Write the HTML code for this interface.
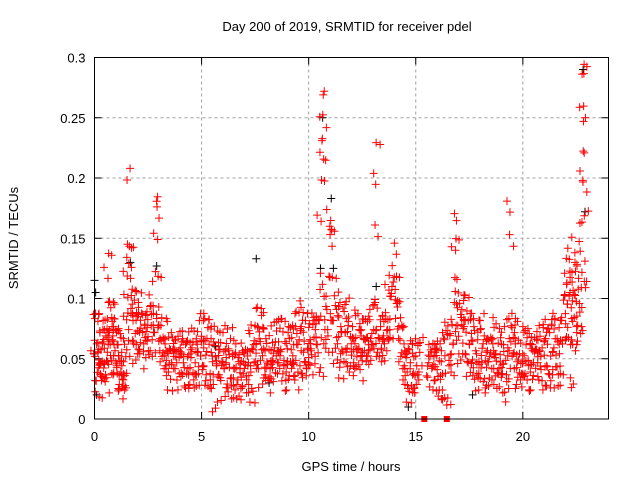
<!DOCTYPE html>
<html><head><meta charset="utf-8"><style>
body{margin:0;background:#fff}
svg{display:block;font-family:"Liberation Sans",sans-serif}
</style></head><body>
<svg id="chart" width="640" height="480" viewBox="0 0 640 480">
<rect width="640" height="480" fill="#fff"/>
<text x="347" y="31" font-size="13" text-anchor="middle">Day 200 of 2019, SRMTID for receiver pdel</text>
<text x="351" y="471" font-size="13" text-anchor="middle">GPS time / hours</text>
<text transform="translate(18,238) rotate(-90)" font-size="13" text-anchor="middle">SRMTID / TECUs</text>
<g id="grid"></g>
<g id="ticks"></g>
<g id="black"></g>
<g id="red"></g>
<rect x="94.5" y="57.5" width="514" height="361.5" fill="none" stroke="#000" stroke-width="1"/>
</svg>
<script>
const xTicks=[0,5,10,15,20];
const yTicks=[0,0.05,0.1,0.15,0.2,0.25,0.3];
const yTickLabels=["0","0.05","0.1","0.15","0.2","0.25","0.3"];
const redPoints=[
[0.02,0.05],[0.05,0.09],[0.08,0.03],[0.1,0.06],[0.13,0.04],[0.16,0.08],[0.2,0.05],[0.22,0.02],[0.25,0.07],[0.28,0.04],[0.3,0.06],[0.33,0.03],[0.36,0.05],[0.4,0.08],[0.43,0.04],[0.46,0.06],[0.5,0.03],[0.53,0.07],[0.56,0.05],
[0.6,0.08],[0.63,0.12],[0.66,0.14],[0.68,0.07],[0.7,0.1],[0.73,0.06],[0.76,0.09],[0.8,0.05],[0.83,0.08],[0.86,0.07],[0.9,0.04],[0.93,0.08],[0.96,0.06],[1.0,0.05],[1.03,0.07],[1.06,0.04],[1.1,0.06],[1.13,0.05],[1.16,0.03],[1.2,0.07],[1.23,0.04],[1.26,0.05],[1.3,0.03],[1.33,0.02],[1.36,0.04],[1.4,0.06],[1.43,0.03],[1.46,0.05],
[1.5,0.08],[1.53,0.12],[1.56,0.1],[1.6,0.13],[1.63,0.145],[1.66,0.205],[1.68,0.12],[1.7,0.09],[1.73,0.14],[1.76,0.11],[1.8,0.08],[1.83,0.06],[1.86,0.1],[1.9,0.07],[1.93,0.05],[1.96,0.09],
[2.0,0.07],[2.05,0.1],[2.1,0.06],[2.15,0.08],[2.2,0.09],[2.25,0.07],[2.3,0.06],[2.35,0.08],[2.4,0.05],[2.45,0.09],[2.5,0.07],[2.55,0.1],[2.6,0.06],[2.65,0.08],[2.7,0.05],[2.75,0.09],[2.8,0.07],
[2.85,0.12],[2.9,0.182],[2.92,0.175],[2.95,0.15],[2.97,0.12],[3.0,0.09],[3.05,0.06],[3.1,0.08],[3.15,0.05],[3.2,0.07],[3.25,0.04],[3.3,0.06],[3.35,0.05],[3.4,0.08],[3.45,0.04],[3.5,0.06],[3.55,0.03],[3.6,0.05],[3.65,0.07],[3.7,0.04],[3.75,0.06],[3.8,0.05],[3.85,0.03],[3.9,0.07],[3.95,0.05],
[4.0,0.06],[4.05,0.04],[4.1,0.07],[4.15,0.05],[4.2,0.03],[4.25,0.06],[4.3,0.04],[4.35,0.05],[4.4,0.07],[4.45,0.03],[4.5,0.05],[4.55,0.06],[4.6,0.04],[4.65,0.07],[4.7,0.05],[4.75,0.03],[4.8,0.06],[4.85,0.04],[4.9,0.08],[4.95,0.05],
[5.0,0.07],[5.05,0.04],[5.1,0.06],[5.15,0.085],[5.2,0.05],[5.25,0.07],[5.3,0.03],[5.35,0.06],[5.4,0.04],[5.45,0.075],[5.5,0.05],[5.55,0.03],[5.6,0.06],[5.65,0.01],[5.7,0.05],[5.75,0.07],[5.8,0.04],[5.85,0.06],[5.9,0.03],[5.95,0.05],
[6.0,0.07],[6.05,0.04],[6.1,0.02],[6.15,0.05],[6.2,0.03],[6.25,0.06],[6.3,0.04],[6.35,0.07],[6.4,0.03],[6.45,0.05],[6.5,0.02],[6.55,0.04],[6.6,0.06],[6.65,0.03],[6.7,0.05],[6.75,0.02],[6.8,0.04],[6.85,0.06],[6.9,0.03],[6.95,0.05],
[7.0,0.04],[7.05,0.06],[7.1,0.02],[7.15,0.05],[7.2,0.03],[7.25,0.07],[7.3,0.04],[7.35,0.06],[7.4,0.02],[7.45,0.05],[7.5,0.08],[7.55,0.06],[7.6,0.095],[7.65,0.04],[7.7,0.07],[7.75,0.05],[7.8,0.085],[7.85,0.03],[7.9,0.06],[7.95,0.04],
[8.0,0.07],[8.05,0.05],[8.1,0.03],[8.15,0.06],[8.2,0.04],[8.25,0.075],[8.3,0.05],[8.35,0.03],[8.4,0.06],[8.45,0.04],[8.5,0.07],[8.55,0.05],[8.6,0.085],[8.65,0.04],[8.7,0.06],[8.75,0.03],[8.8,0.07],[8.85,0.05],[8.9,0.08],[8.95,0.04],
[9.0,0.06],[9.05,0.03],[9.1,0.07],[9.15,0.05],[9.2,0.04],[9.25,0.08],[9.3,0.06],[9.35,0.03],[9.4,0.05],[9.45,0.07],[9.5,0.04],[9.55,0.09],[9.6,0.095],[9.65,0.06],[9.7,0.04],[9.75,0.07],[9.8,0.05],[9.85,0.08],[9.9,0.04],[9.95,0.06],
[10.0,0.05],[10.05,0.08],[10.1,0.06],[10.15,0.085],[10.2,0.04],[10.25,0.07],[10.3,0.05],[10.35,0.085],[10.4,0.06],[10.45,0.08],[10.5,0.04],[10.55,0.12],[10.58,0.165],[10.6,0.2],[10.62,0.228],[10.64,0.236],[10.66,0.255],[10.68,0.267],[10.7,0.218],[10.72,0.1],[10.75,0.08],
[10.8,0.06],[10.85,0.09],[10.9,0.07],[10.95,0.12],[11.0,0.15],[11.03,0.168],[11.06,0.16],[11.08,0.155],[11.1,0.12],[11.15,0.08],[11.2,0.1],[11.25,0.06],[11.3,0.09],[11.35,0.05],[11.4,0.07],[11.45,0.04],[11.5,0.08],[11.55,0.06],[11.6,0.09],[11.65,0.05],
[11.7,0.07],[11.75,0.095],[11.8,0.06],[11.85,0.08],[11.9,0.04],[11.95,0.07],[12.0,0.05],[12.05,0.08],[12.1,0.06],[12.15,0.04],[12.2,0.07],[12.25,0.05],[12.3,0.085],[12.35,0.06],[12.4,0.04],[12.45,0.07],[12.5,0.05],[12.55,0.08],[12.6,0.06],[12.65,0.085],
[12.7,0.05],[12.75,0.07],[12.8,0.06],[12.85,0.08],[12.9,0.05],[12.95,0.07],[13.0,0.095],[13.05,0.06],[13.1,0.158],[13.13,0.198],[13.15,0.232],[13.2,0.09],[13.25,0.07],[13.3,0.05],[13.35,0.08],[13.4,0.06],[13.45,0.085],[13.5,0.07],[13.55,0.05],[13.6,0.08],
[13.65,0.06],[13.7,0.085],[13.75,0.105],[13.8,0.07],[13.85,0.1],[13.9,0.125],[13.95,0.115],[14.0,0.145],[14.05,0.1],[14.1,0.12],[14.15,0.09],[14.2,0.07],[14.25,0.1],[14.3,0.05],[14.35,0.08],[14.4,0.04],[14.45,0.06],[14.5,0.03],[14.55,0.05],[14.6,0.04],
[14.65,0.06],[14.7,0.02],[14.75,0.05],[14.8,0.03],[14.85,0.06],[14.9,0.04],[14.95,0.02],[15.0,0.05],[15.05,0.03],[15.1,0.06],[15.15,0.04],[15.2,0.065],[15.6,0.05],[15.65,0.03],[15.7,0.06],[15.75,0.04],[15.8,0.065],[15.85,0.05],[15.9,0.03],[15.95,0.06],
[16.0,0.04],[16.05,0.02],[16.1,0.05],[16.15,0.03],[16.2,0.06],[16.25,0.04],[16.3,0.065],[16.35,0.02],[16.45,0.01],[16.5,0.075],[16.55,0.05],[16.6,0.07],[16.65,0.04],[16.7,0.08],[16.75,0.06],[16.8,0.1],[16.83,0.12],[16.86,0.138],[16.88,0.152],[16.9,0.163],[16.95,0.09],
[17.0,0.07],[17.05,0.095],[17.1,0.05],[17.15,0.08],[17.2,0.06],[17.25,0.085],[17.3,0.105],[17.35,0.07],[17.4,0.05],[17.45,0.08],[17.5,0.06],[17.55,0.04],[17.6,0.07],[17.65,0.05],[17.7,0.085],[17.75,0.03],[17.8,0.06],[17.85,0.04],[17.9,0.07],[17.95,0.05],
[18.0,0.08],[18.05,0.04],[18.1,0.06],[18.15,0.03],[18.2,0.07],[18.25,0.05],[18.3,0.04],[18.35,0.06],[18.4,0.03],[18.45,0.05],[18.5,0.07],[18.55,0.04],[18.6,0.06],[18.65,0.03],[18.7,0.05],[18.75,0.08],[18.8,0.04],[18.85,0.06],[18.9,0.03],[18.95,0.05],
[19.0,0.07],[19.05,0.04],[19.1,0.06],[19.15,0.02],[19.2,0.05],[19.25,0.03],[19.3,0.06],[19.35,0.085],[19.38,0.15],[19.4,0.175],[19.45,0.08],[19.5,0.05],[19.55,0.07],[19.6,0.04],[19.65,0.06],[19.7,0.03],[19.75,0.08],[19.8,0.05],[19.85,0.04],[19.9,0.06],
[19.95,0.03],[20.0,0.05],[20.05,0.07],[20.1,0.04],[20.15,0.06],[20.2,0.03],[20.25,0.05],[20.3,0.07],[20.35,0.04],[20.4,0.06],[20.45,0.03],[20.5,0.05],[20.55,0.07],[20.6,0.04],[20.65,0.06],[20.7,0.05],[20.75,0.03],[20.8,0.07],[20.85,0.04],[20.9,0.06],
[20.95,0.08],[21.0,0.05],[21.05,0.07],[21.1,0.03],[21.15,0.06],[21.2,0.04],[21.25,0.07],[21.3,0.05],[21.35,0.08],[21.4,0.04],[21.45,0.06],[21.5,0.085],[21.55,0.05],[21.6,0.07],[21.65,0.03],[21.7,0.06],[21.75,0.04],[21.8,0.08],[21.85,0.06],[21.9,0.1],
[21.95,0.12],[22.0,0.08],[22.03,0.135],[22.06,0.11],[22.1,0.145],[22.13,0.07],[22.16,0.1],[22.2,0.125],[22.23,0.06],[22.26,0.09],[22.3,0.115],[22.33,0.08],[22.36,0.03],[22.4,0.105],[22.43,0.135],[22.46,0.06],[22.5,0.1],[22.53,0.125],[22.56,0.08],[22.6,0.115],
[22.63,0.145],[22.66,0.09],[22.7,0.07],[22.73,0.11],[22.76,0.165],[22.8,0.195],[22.81,0.2],[22.82,0.225],[22.83,0.245],[22.84,0.262],[22.85,0.285],[22.86,0.292],[22.87,0.17],[22.9,0.13],[22.93,0.11]
];
const blackPoints=[[0.05,0.115],[0.1,0.105],[0.15,0.02],[1.72,0.13],[2.95,0.127],[7.6,0.133],[10.6,0.125],[10.7,0.25],[11.1,0.183],[11.2,0.125],[14.7,0.01],[13.2,0.11],[17.7,0.02],[22.86,0.29],[22.95,0.172],[5.7,0.06],[8.2,0.03]];
const zeroPoints=[[15.4,0],[16.45,0]];

const X0=94.5,X1=608.5,Y0=419,Y1=57.5,XMAX=24,YMAX=0.3;
const sx=h=>X0+(X1-X0)*h/XMAX;
const sy=v=>Y0-(Y0-Y1)*v/YMAX;
const NS="http://www.w3.org/2000/svg";
function mk(tag,attrs,parent){const e=document.createElementNS(NS,tag);for(const k in attrs)e.setAttribute(k,attrs[k]);parent.appendChild(e);return e;}
const grid=document.getElementById('grid'),ticks=document.getElementById('ticks');
xTicks.forEach(t=>{const x=sx(t);
 if(t>0){const g=mk('line',{x1:x,x2:x,y1:Y1,y2:Y0,stroke:'#a0a0a0','stroke-dasharray':'3,3'},grid);}
 mk('line',{x1:x,x2:x,y1:Y0,y2:Y0-7,stroke:'#000'},ticks);mk('line',{x1:x,x2:x,y1:Y1,y2:Y1+7,stroke:'#000'},ticks);
 const tx=mk('text',{x:x,y:Y0+22,'font-size':13,'text-anchor':'middle'},ticks);tx.textContent=t;
 });
yTicks.forEach((t,i)=>{const y=sy(t);
 if(t>0&&t<YMAX){const g=mk('line',{x1:X0,x2:X1,y1:y,y2:y,stroke:'#a0a0a0','stroke-dasharray':'3,3'},grid);}
 mk('line',{x1:X0,x2:X0+7,y1:y,y2:y,stroke:'#000'},ticks);mk('line',{x1:X1,x2:X1-7,y1:y,y2:y,stroke:'#000'},ticks);
 const tx=mk('text',{x:X0-9,y:y+5,'font-size':13,'text-anchor':'end'},ticks);tx.textContent=yTickLabels[i];
 });
// marker drawing jitter (pixel offsets for duplicate markers, style only)
const dupDX=[3,-2,4,-3,1,2,-4];
const dupDY=[-6,4,-9,7,-3,10,-5,3,8,-7,5];
function plus(x,y,col,g){
 const e=mk('path',{d:`M${x-4} ${y}H${x+4}M${x} ${y-4}V${y+4}`,stroke:col,'stroke-width':1,fill:'none'},g);
 }
const bg=document.getElementById('black'),rg=document.getElementById('red');
blackPoints.forEach(p=>plus(sx(p[0])-1,sy(p[1]),'#000',bg));
redPoints.forEach((p,i)=>{const x=sx(p[0]),y=sy(p[1]);
 plus(x,y+dupDY[(i*3)%11]*0.4,'#f00',rg);
 plus(x+dupDX[i%7],y+dupDY[i%11],'#f00',rg);
 if(p[1]<0.11)plus(x-dupDX[(i+2)%7],y-dupDY[(i+5)%11]*0.8,'#f00',rg);});
zeroPoints.forEach(p=>{const r=mk('rect',{x:sx(p[0])-3,y:sy(p[1])-3,width:6,height:6,fill:'#f00'},rg);
 });
</script>
</body></html>
